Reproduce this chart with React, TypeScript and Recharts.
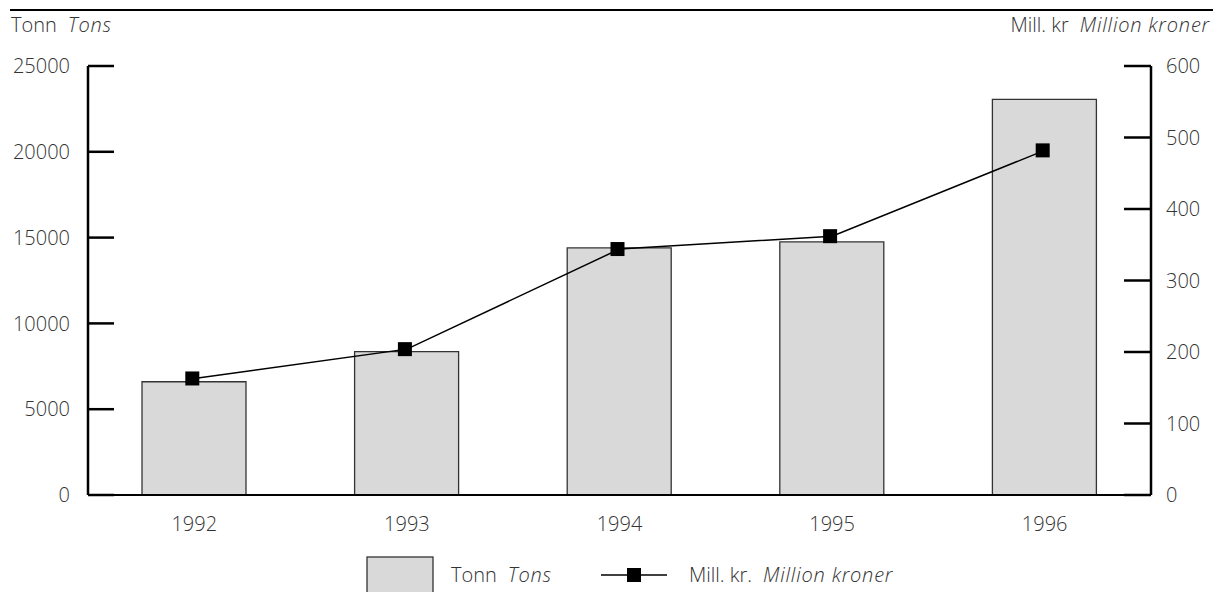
import React from 'react';
import { ComposedChart, Bar, Line, XAxis, YAxis } from 'recharts';

const years = ['1992', '1993', '1994', '1995', '1996'];
const tons = [6600, 8350, 14400, 14750, 23050];
const millionKroner = [163, 204, 344, 362, 482];
const tonsTicks = [0, 5000, 10000, 15000, 20000, 25000];
const kronerTicks = [0, 100, 200, 300, 400, 500, 600];

const data = years.map((year, i) => ({ year, tons: tons[i], kr: millionKroner[i] }));

const FONT = '"Open Sans", sans-serif';
const TXT = '#333333';
const WEIGHT = 300;
const ITALIC_SPACING = 0.8;

const LeftTick = (props: any) => {
  const { x, y, payload } = props;
  return (
    <g>
      <line x1={x + 18} x2={x + 44} y1={y} y2={y} stroke="#000" strokeWidth={2.5} />
      <text x={x} y={y} dy="0.355em" textAnchor="end" fontFamily={FONT} fontWeight={WEIGHT} fontSize={20} fill={TXT}>
        {payload.value}
      </text>
    </g>
  );
};

const RightTick = (props: any) => {
  const { x, y, payload } = props;
  return (
    <g>
      <line x1={x - 15} x2={x - 42} y1={y} y2={y} stroke="#000" strokeWidth={2.5} />
      <text x={x} y={y} dy="0.355em" textAnchor="start" fontFamily={FONT} fontWeight={WEIGHT} fontSize={20} fill={TXT}>
        {payload.value}
      </text>
    </g>
  );
};

const SquareDot = (props: any) => {
  const { cx, cy, index } = props;
  if (cx == null || cy == null) return null;
  return <rect key={`d${index}`} x={cx - 9} y={cy - 7} width={14} height={14} fill="#000" />;
};

export default function App() {
  return (
    <div style={{ position: 'absolute', left: 0, top: 0, width: 1213, height: 592, background: '#fff' }}>
      <ComposedChart
        width={1213}
        height={592}
        data={data}
        margin={{ top: 66, right: 0, bottom: 57, left: 0 }}
      >
        <XAxis
          dataKey="year"
          axisLine={{ stroke: '#000', strokeWidth: 2 }}
          tickLine={false}
          tickSize={0}
          tickMargin={22}
          height={40}
          tick={{ fontFamily: FONT, fontWeight: WEIGHT, fontSize: 20, fill: TXT }}
        />
        <YAxis
          yAxisId="left"
          orientation="left"
          domain={[0, 25000]}
          ticks={tonsTicks}
          width={88}
          axisLine={{ stroke: '#000', strokeWidth: 2.5 }}
          tickLine={false}
          tickSize={0}
          tickMargin={18}
          tick={<LeftTick />}
          interval={0}
        />
        <YAxis
          yAxisId="right"
          orientation="right"
          domain={[0, 600]}
          ticks={kronerTicks}
          width={62}
          axisLine={{ stroke: '#000', strokeWidth: 2.5 }}
          tickLine={false}
          tickSize={0}
          tickMargin={15}
          tick={<RightTick />}
          interval={0}
        />
        <Bar
          yAxisId="left"
          dataKey="tons"
          fill="#d9d9d9"
          stroke="#333"
          strokeWidth={1.3}
          barSize={104}
          isAnimationActive={false}
        />
        <Line
          yAxisId="right"
          type="linear"
          dataKey="kr"
          stroke="#000"
          strokeWidth={1.5}
          dot={<SquareDot />}
          activeDot={false}
          isAnimationActive={false}
        />
      </ComposedChart>
      <svg
        width={1213}
        height={592}
        style={{ position: 'absolute', left: 0, top: 0, pointerEvents: 'none' }}
        fontFamily={FONT}
        fontWeight={WEIGHT}
        fontSize={20}
      >
        <line x1={10} x2={1213} y1={10} y2={10} stroke="#000" strokeWidth={2} />
        <text x={11} y={32} fill={TXT}>
          Tonn<tspan dx={11} fontStyle="italic" letterSpacing={ITALIC_SPACING}>Tons</tspan>
        </text>
        <text x={1210} y={32} fill={TXT} textAnchor="end">
          Mill. kr<tspan dx={11} fontStyle="italic" letterSpacing={ITALIC_SPACING}>Million kroner</tspan>
        </text>
        <rect x={367} y={557} width={66} height={45} fill="#d9d9d9" stroke="#333" strokeWidth={1.3} />
        <text x={451} y={582} fill={TXT}>
          Tonn<tspan dx={11} fontStyle="italic" letterSpacing={ITALIC_SPACING}>Tons</tspan>
        </text>
        <line x1={601} x2={667} y1={575} y2={575} stroke="#000" strokeWidth={1.5} />
        <rect x={627} y={568} width={14} height={14} fill="#000" />
        <text x={689} y={582} fill={TXT}>
          Mill. kr.<tspan dx={11} fontStyle="italic" letterSpacing={ITALIC_SPACING}>Million kroner</tspan>
        </text>
      </svg>
    </div>
  );
}
